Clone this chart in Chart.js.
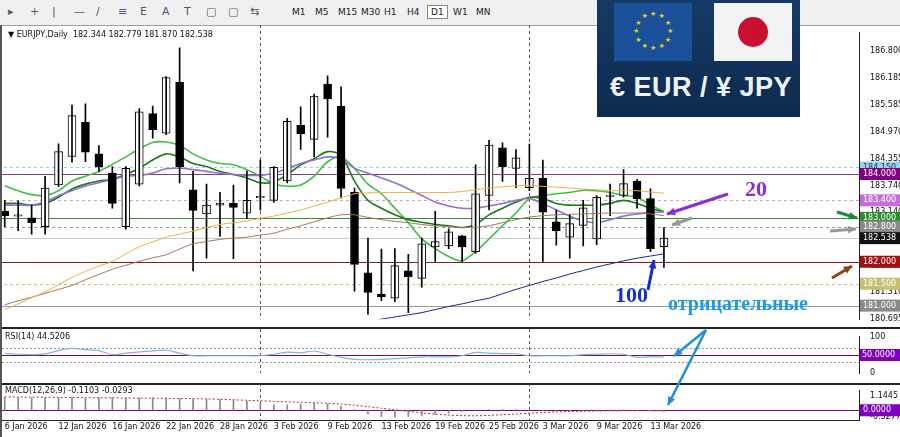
<!DOCTYPE html>
<html><head><meta charset="utf-8">
<script src="https://cdn.jsdelivr.net/npm/chart.js@4"></script>
<style>
body{margin:0;width:900px;height:437px;overflow:hidden;background:#fff;font-family:"DejaVu Sans",sans-serif;position:relative}
#tb{position:absolute;left:0;top:0;width:900px;height:25px;background:#f0f0f0;border-bottom:1px solid #a0a0a0;font-size:9px;color:#222}
#tb span{position:absolute;top:7px}
.pane{position:absolute;left:-2px;width:903px}
canvas{display:block}
.lbl{position:absolute;font-size:8px;color:#111;white-space:nowrap}
#banner{position:absolute;left:597px;top:0;width:203px;height:117px;background:linear-gradient(#163a66,#0e2a4e);}
#eu{position:absolute;left:17px;top:3px;width:78px;height:58px;background:#1a4f9a}
#jp{position:absolute;left:117px;top:3px;width:78px;height:58px;background:#f2f2f2}
#jp div{position:absolute;left:24px;top:14px;width:30px;height:30px;border-radius:50%;background:#c8102e}
#bt{position:absolute;left:13px;top:72px;font:bold 27px "Liberation Sans",sans-serif;color:#eef2f8;letter-spacing:0.5px}
.ann{position:absolute;font-family:"Liberation Serif",serif;font-weight:bold}
#ov{position:absolute;left:0;top:0;pointer-events:none}
</style></head><body>
<div id="tb"></div>
<div class="pane" style="top:25px;height:302px"><canvas id="main" width="903" height="302" style="width:903px;height:302px"></canvas></div>
<div class="pane" style="top:327px;height:54px;border-top:2px solid #222;border-bottom:2px solid #222"><canvas id="rsi" width="903" height="52" style="width:903px;height:52px"></canvas></div>
<div class="pane" style="top:383px;height:54px;"><canvas id="macd" width="903" height="54" style="width:903px;height:54px"></canvas></div>
<div style="position:absolute;left:0;top:25px;width:2px;height:412px;background:#555"></div>
<div class="lbl" style="left:8px;top:30px">▼ EURJPY,Daily&nbsp; 182.344 182.779 181.870 182.538</div>
<div class="lbl" style="left:5px;top:332px">RSI(14) 44.5206</div>
<div class="lbl" style="left:5px;top:386px">MACD(12,26,9) -0.1103 -0.0293</div>
<div id="banner"><div id="eu"></div><div id="jp"><div></div></div><div id="bt">€ EUR / ¥ JPY</div></div>
<div class="ann" style="left:745px;top:176px;font-size:22px;color:#8a2be2">20</div>
<div class="ann" style="left:615px;top:282px;font-size:22px;color:#1030d0">100</div>
<div class="ann" style="left:668px;top:292px;font-size:20px;color:#1e9be0">отрицательные</div>
<canvas id="ov" width="900" height="437"></canvas>
<script>
const dates=["6 Jan 2026","","","","12 Jan 2026","","","","16 Jan 2026","","","","22 Jan 2026","","","","28 Jan 2026","","","","3 Feb 2026","","","","9 Feb 2026","","","","13 Feb 2026","","","","19 Feb 2026","","","","25 Feb 2026","","","","3 Mar 2026","","","","9 Mar 2026","","","","13 Mar 2026",""];
const open=[183.15,183.04,183.0,182.80,183.75,184.40,185.18,184.46,184.02,182.80,183.77,185.38,184.93,186.09,183.64,183.09,183.29,183.33,183.11,183.46,183.40,183.84,185.11,184.79,186.05,185.55,183.58,181.75,181.26,181.17,181.79,181.62,182.34,182.36,182.59,182.23,183.51,184.60,184.13,183.69,183.90,182.91,182.56,182.83,182.52,183.49,183.51,183.84,183.44,182.344];
const high=[183.4,183.39,183.29,183.95,184.69,185.57,185.6,184.65,184.17,184.17,185.49,185.55,186.22,186.88,184.06,183.77,183.58,183.75,184.07,184.32,184.17,185.27,185.53,185.82,186.24,185.99,183.68,182.54,182.29,182.30,182.17,182.54,183.15,182.75,182.60,184.21,184.77,184.71,184.56,184.68,184.32,183.18,183.07,183.40,183.51,183.77,184.10,183.88,183.66,182.779];
const low=[182.8,182.71,182.63,182.63,183.72,184.27,184.28,184.06,183.22,182.74,183.73,184.82,184.90,183.80,181.79,182.08,182.58,182.07,182.98,183.18,183.35,183.80,184.56,184.39,184.84,183.45,181.33,180.80,181.11,181.09,180.84,181.42,182.01,182.30,182.01,182.19,183.18,183.83,183.69,183.62,182.01,182.38,182.08,182.36,182.39,183.05,183.47,183.22,182.23,181.870];
const close=[183.05,183.04,182.89,183.68,184.51,185.33,184.50,184.16,183.33,184.13,185.42,185.01,186.20,184.16,183.17,183.29,183.34,183.24,183.40,183.46,184.15,185.20,184.92,185.78,185.71,183.67,181.94,181.30,181.20,181.91,181.66,182.41,182.46,182.68,182.34,183.55,184.66,184.17,184.37,183.90,183.13,182.71,182.87,183.23,183.47,183.52,183.78,183.44,182.30,182.538];
const maFast=[183.73,183.62,183.53,183.51,183.62,183.84,183.95,184.06,184.22,184.39,184.57,184.72,184.73,184.65,184.46,184.32,184.24,184.21,184.10,183.95,183.78,183.72,183.75,183.95,184.28,184.39,184.13,183.77,183.55,183.22,182.89,182.52,182.30,182.12,182.02,182.23,182.52,182.82,183.11,183.44,183.51,183.55,183.58,183.63,183.62,183.58,183.51,183.47,183.29,183.14];
const maDark=[183.33,183.33,183.29,183.33,183.47,183.66,183.77,183.84,183.88,183.99,184.13,184.32,184.46,184.39,184.24,184.17,184.06,183.99,183.91,183.80,183.82,183.99,184.21,184.35,184.51,184.43,183.84,183.40,183.22,183.07,182.96,182.90,182.85,182.82,182.78,182.85,183.07,183.22,183.36,183.47,183.44,183.33,183.29,183.29,183.29,183.33,183.40,183.33,183.22,183.14];
const ma20=[183.29,183.29,183.29,183.36,183.51,183.62,183.73,183.80,183.88,183.95,183.97,184.02,184.12,184.13,184.10,184.06,184.02,183.99,183.97,183.97,184.02,184.13,184.24,184.32,184.39,184.35,184.13,184.02,183.91,183.80,183.66,183.51,183.36,183.27,183.22,183.22,183.27,183.33,183.40,183.44,183.33,183.18,183.04,182.93,182.89,182.96,183.04,183.09,183.12,183.14];
const maOrange=[180.91,181.04,181.18,181.31,181.48,181.64,181.78,181.90,182.01,182.18,182.34,182.45,182.56,182.63,182.70,182.78,182.85,182.89,182.93,182.99,183.04,183.11,183.18,183.27,183.36,183.46,183.55,183.57,183.58,183.58,183.58,183.58,183.58,183.58,183.60,183.64,183.68,183.71,183.73,183.74,183.72,183.70,183.68,183.66,183.64,183.62,183.62,183.62,183.59,183.56];
const maBrown=[181.02,181.11,181.19,181.28,181.37,181.46,181.59,181.71,181.83,181.92,182.01,182.09,182.16,182.29,182.41,182.46,182.51,182.54,182.56,182.61,182.65,182.74,182.82,182.91,183.00,183.07,183.07,183.01,182.96,182.92,182.89,182.85,182.82,182.80,182.78,182.79,182.82,182.89,182.96,183.02,183.05,183.07,183.08,183.09,183.10,183.11,183.11,183.11,183.09,183.05];
const ma100=[null,null,null,null,null,null,null,null,null,null,null,null,null,null,null,null,null,null,null,null,null,null,null,null,null,null,180.50,180.60,180.69,180.74,180.79,180.84,180.91,180.98,181.04,181.11,181.17,181.27,181.37,181.46,181.55,181.63,181.72,181.80,181.88,181.95,182.02,182.08,182.13,182.18];
const rsi=[54.7,52,51,53,62,68,65,62,51,55,58.7,61,63,55,48,48,48,48,48,48,52,58,56,61,52,43.5,38,37,38,40,42,45,45,45,48,57,55,54,53.5,48,48,48,48,51,52,53.5,52,43.5,45,44.5];
const macdHist=[1.02,1.0,0.98,0.98,0.99,1.0,1.0,1.0,1.0,0.98,0.97,0.98,1.0,0.91,0.88,0.86,0.85,0.83,0.7,0.55,0.45,0.42,0.47,0.58,0.5,0.3,0.05,-0.3,-0.5,-0.55,-0.48,-0.4,-0.32,-0.22,-0.1,0.0,0.06,0.06,0.06,0.0,-0.06,-0.1,-0.06,-0.02,0.0,0.02,0.04,0.0,-0.06,-0.11];
const macdSignal=[1.05,1.04,1.03,1.02,1.01,1.0,0.99,0.98,0.97,0.96,0.95,0.94,0.93,0.92,0.91,0.89,0.86,0.82,0.78,0.74,0.70,0.66,0.62,0.59,0.55,0.49,0.40,0.28,0.16,0.04,-0.08,-0.2,-0.3,-0.38,-0.42,-0.43,-0.40,-0.35,-0.29,-0.23,-0.18,-0.13,-0.10,-0.07,-0.05,-0.04,-0.03,-0.03,-0.03,-0.03];
const priceTicks=[186.800,186.185,185.585,184.970,184.355,183.740,183.140,181.910,181.310,180.695];
const levels=[[184.15,'#87cefa',[3,3],'#9ad4f5','#333'],[184.0,'#8b3a8b',[],'#800080','#fff'],[183.4,'#c8a2e0',[3,3],'#c070d8','#fff'],[183.0,'#3a8a3a',[],'#2e8b2e','#fff'],[182.8,'#999',[3,3],'#8a8a8a','#fff'],[182.538,'#ccc',[],'#111','#fff'],[182.0,'#8b1a1a',[],'#a01010','#fff'],[181.5,'#c8c878',[3,3],'#c8c070','#fff'],[181.0,'#999',[],'#8a8a8a','#fff']];
const rsiTicks=[100,70,50,30,0];
const macdTicks=[1.1445,0,-0.5277];
const tools=["M1","M5","M15","M30","H1","H4","D1","W1","MN"];

const N=64, idx=[...Array(N).keys()];
const labels=idx.map(i=>dates[i]??'');
const pad=a=>idx.map(i=>a[i]??null);
const F='8px "DejaVu Sans"';
Chart.defaults.animation=false;
Chart.defaults.devicePixelRatio=1;
function sepPlugin(){return{id:'sep',beforeDatasetsDraw(c){const x=c.scales.x,ctx=c.ctx,a=c.chartArea;ctx.save();ctx.strokeStyle='#555';ctx.setLineDash([3,3]);[19,39].forEach(i=>{const px=Math.round(x.getPixelForValue(i))+0.5;ctx.beginPath();ctx.moveTo(px,0);ctx.lineTo(px,a.bottom);ctx.stroke();});ctx.restore();}}}
function yax(min,max,ticks,cb){return{position:'right',min,max,afterFit(s){s.width=42},afterBuildTicks(s){s.ticks=ticks.map(v=>({value:v}))},grid:{display:false},border:{display:true,color:'#222'},ticks:{font:{size:8,family:'DejaVu Sans'},color:'#111',padding:3,callback:cb}}}
const xHidden={type:'category',labels,grid:{display:false},ticks:{display:false},border:{display:false},offset:true,afterFit(s){s.height=0}};
const common={responsive:false,maintainAspectRatio:false,plugins:{legend:{display:false},tooltip:{enabled:false}}};
const bodyLo=idx.map(i=>i<50?Math.min(open[i],close[i]):null), bodyHi=idx.map(i=>i<50?Math.max(open[i],close[i])+(Math.abs(open[i]-close[i])<0.03?0.03:0):null);
new Chart(document.getElementById('main'),{data:{labels,datasets:[
 {type:'line',data:pad(maOrange),borderColor:'#f0b040',borderWidth:1,pointRadius:0,tension:0.3},
 {type:'line',data:pad(maBrown),borderColor:'#a07860',borderWidth:1,pointRadius:0,tension:0.3},
 {type:'line',data:pad(ma100),borderColor:'#2020a0',borderWidth:1,pointRadius:0,tension:0.3},
 {type:'bar',data:idx.map(i=>i<50?[low[i],high[i]]:null),backgroundColor:'#000',barThickness:1,grouped:false},
 {type:'bar',data:idx.map(i=>i<50?[bodyLo[i],bodyHi[i]]:null),backgroundColor:idx.map(i=>close[i]>=open[i]?'#fff':'#000'),borderColor:'#000',borderWidth:1,borderSkipped:false,barThickness:8,grouped:false},
 {type:'line',data:pad(ma20),borderColor:'#9370db',borderWidth:1.6,pointRadius:0,tension:0.3},
 {type:'line',data:pad(maDark),borderColor:'#1a7a1a',borderWidth:1.6,pointRadius:0,tension:0.3},
 {type:'line',data:pad(maFast),borderColor:'#40c040',borderWidth:1.6,pointRadius:0,tension:0.3}
]},options:{...common,layout:{padding:{top:3,bottom:2,left:0}},
 scales:{x:{...xHidden},y:yax(180.69,187.22,priceTicks,v=>Number(v).toFixed(3))}},
 plugins:[sepPlugin(),{id:'lv',beforeDatasetsDraw(c){const y=c.scales.y,ctx=c.ctx,a=c.chartArea;ctx.save();levels.forEach(l=>{const py=Math.round(y.getPixelForValue(l[0]))+0.5;ctx.strokeStyle=l[1];ctx.setLineDash(l[2]);ctx.lineWidth=1;ctx.beginPath();ctx.moveTo(a.left,py);ctx.lineTo(a.right,py);ctx.stroke();});ctx.restore();},
 afterDraw(c){const y=c.scales.y,ctx=c.ctx,a=c.chartArea;ctx.save();ctx.font=F;ctx.textBaseline='middle';levels.forEach(l=>{const py=y.getPixelForValue(l[0]);ctx.fillStyle=l[3];ctx.fillRect(a.right+1,py-6,40,12);ctx.fillStyle=l[4];ctx.fillText(l[0].toFixed(3),a.right+4,py);});ctx.restore();}}]});
new Chart(document.getElementById('rsi'),{data:{labels,datasets:[{type:'line',data:pad(rsi),borderColor:'#7ab8e0',borderWidth:1.2,pointRadius:0,tension:0.3}]},
 options:{...common,layout:{padding:{top:1,bottom:1,left:0}},
 scales:{x:{...xHidden},y:yax(0,100,rsiTicks,v=>v==50?'':v)}},
 plugins:[sepPlugin(),{id:'r',beforeDatasetsDraw(c){const y=c.scales.y,ctx=c.ctx,a=c.chartArea;ctx.save();[[70,'#999',[2,2]],[30,'#999',[2,2]],[50,'#800080',[]]].forEach(l=>{const py=Math.round(y.getPixelForValue(l[0]))+0.5;ctx.strokeStyle=l[1];ctx.setLineDash(l[2]);ctx.beginPath();ctx.moveTo(a.left,py);ctx.lineTo(a.right,py);ctx.stroke();});ctx.restore();},
 afterDraw(c){const y=c.scales.y,ctx=c.ctx,a=c.chartArea,py=y.getPixelForValue(50);ctx.fillStyle='#8000c0';ctx.fillRect(a.right+1,py-6,40,12);ctx.fillStyle='#fff';ctx.font=F;ctx.textBaseline='middle';ctx.fillText('50.0000',a.right+3,py);}}]});
new Chart(document.getElementById('macd'),{data:{labels,datasets:[
 {type:'bar',data:pad(macdHist),backgroundColor:'#888',barThickness:1},
 {type:'line',data:pad(macdSignal),borderColor:'#c03030',borderWidth:1,borderDash:[2,2],pointRadius:0,tension:0.3}]},
 options:{...common,layout:{padding:{top:1,left:0}},
 scales:{x:{type:'category',labels,offset:true,afterFit(s){s.height=17},grid:{display:false,drawTicks:false},border:{display:true,color:'#222'},ticks:{autoSkip:false,maxRotation:0,font:{size:8,family:'DejaVu Sans'},color:'#111',align:'start',padding:2,callback:(v,i)=>labels[i]}},
  y:yax(-0.763,1.526,macdTicks,v=>v==0?'':v)}},
 plugins:[sepPlugin(),{id:'m',beforeDatasetsDraw(c){const y=c.scales.y,ctx=c.ctx,a=c.chartArea,py=Math.round(y.getPixelForValue(0))+0.5;ctx.strokeStyle='#800080';ctx.beginPath();ctx.moveTo(a.left,py);ctx.lineTo(a.right,py);ctx.stroke();},
 afterDraw(c){const y=c.scales.y,ctx=c.ctx,a=c.chartArea,py=y.getPixelForValue(0);ctx.fillStyle='#8000c0';ctx.fillRect(a.right+1,py-6,40,12);ctx.fillStyle='#fff';ctx.font=F;ctx.textBaseline='middle';ctx.fillText('0.0000',a.right+4,py);ctx.strokeStyle='#222';ctx.beginPath();ctx.moveTo(0,0.5);ctx.lineTo(a.right,0.5);ctx.stroke();}}]});
const tb=document.getElementById('tb');
["▸","+","|","—","/","≡","E","A","T","▢","▢","⇆"].forEach((s,i)=>{const e=document.createElement('span');e.textContent=s;e.style.left=(8+i*22)+'px';e.style.fontSize='11px';e.style.top='5px';e.style.color='#557';tb.appendChild(e);});
tools.forEach((t,i)=>{const e=document.createElement('span');e.textContent=t;e.style.left=(292+i*23)+'px';if(t=='D1'){e.style.border='1px solid #888';e.style.background='#fff';e.style.padding='1px 3px';e.style.top='5px';e.style.left=(289+i*23)+'px';}tb.appendChild(e);});
const eu=document.getElementById('eu');for(let k=0;k<12;k++){const s=document.createElement('span');s.textContent='★';const ang=k*Math.PI/6;s.style.cssText=`position:absolute;color:#f5d000;font-size:7px;left:${36+17*Math.sin(ang)}px;top:${24-17*Math.cos(ang)}px`;eu.appendChild(s);}
const o=document.getElementById('ov').getContext('2d');
function arr(x1,y1,x2,y2,col,w){o.strokeStyle=col;o.fillStyle=col;o.lineWidth=w;o.beginPath();o.moveTo(x1,y1);o.lineTo(x2,y2);o.stroke();const a=Math.atan2(y2-y1,x2-x1),L=9;o.beginPath();o.moveTo(x2,y2);o.lineTo(x2-L*Math.cos(a-0.45),y2-L*Math.sin(a-0.45));o.lineTo(x2-L*Math.cos(a+0.45),y2-L*Math.sin(a+0.45));o.closePath();o.fill();}
arr(728,194,667,214,'#8a2be2',3);arr(692,218,672,225,'#999',3);arr(837,212,857,218,'#1a8a3a',3);arr(830,231,856,229,'#999',3);arr(832,278,852,266,'#8b4513',3);arr(648,290,654,260,'#1030d0',3);arr(706,330,674,356,'#1e8ee0',2.5);arr(706,330,668,405,'#1e8ee0',2.5);
</script></body></html>
